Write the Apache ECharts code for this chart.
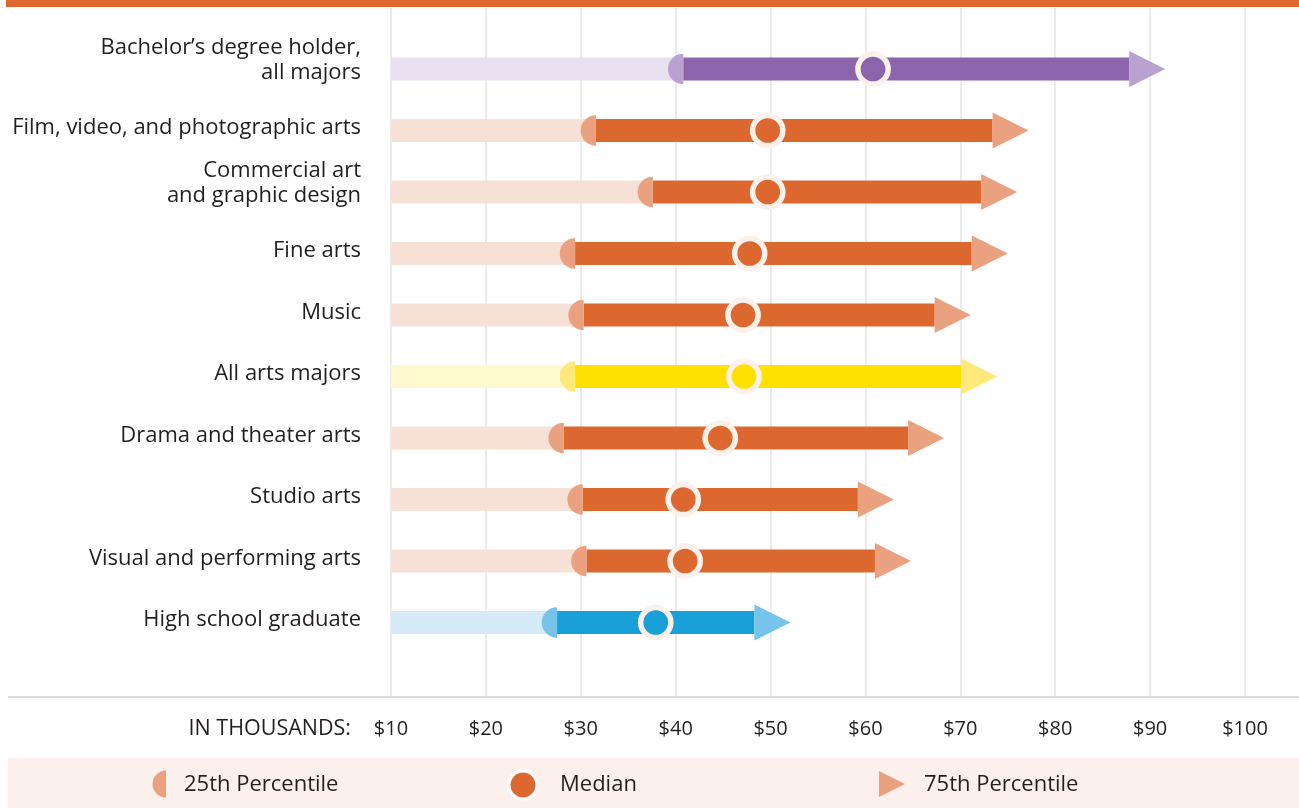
<!DOCTYPE html>
<html><head><meta charset="utf-8">
<script src="https://cdn.jsdelivr.net/npm/echarts@6/dist/echarts.min.js"></script>
<style>html,body{margin:0;padding:0;background:#fff}#c{width:1299px;height:808px}</style>
</head><body><div id="c"></div>
<script>
// ---- data (annual earnings, in thousands of dollars) ----
const categories = [
  'Bachelor’s degree holder,\nall majors',
  'Film, video, and photographic arts',
  'Commercial art\nand graphic design',
  'Fine arts',
  'Music',
  'All arts majors',
  'Drama and theater arts',
  'Studio arts',
  'Visual and performing arts',
  'High school graduate'
];
const p25Values    = [40.8, 31.6, 37.6, 29.4, 30.3, 29.4, 28.2, 30.2, 30.6, 27.5];
const medianValues = [60.8, 49.7, 49.7, 47.8, 47.1, 47.2, 44.7, 40.8, 41.0, 37.9];
const p75Values    = [87.8, 73.4, 72.2, 71.2, 67.3, 70.1, 64.5, 59.2, 61.0, 48.3];
const axisMin = 10, axisMax = 100, axisStep = 10;
const axisTitle = 'IN THOUSANDS:';
const legendLabels = ['25th Percentile', 'Median', '75th Percentile'];

// ---- styles ----
const palettes = {
  orange: {dark: '#DC6830', light: '#F7E1D7', accent: '#EAA17F'},
  purple: {dark: '#8B64AB', light: '#E8E0F0', accent: '#B9A2CF'},
  yellow: {dark: '#FFE000', light: '#FFF8CF', accent: '#FFE97A'},
  blue:   {dark: '#1AA0D8', light: '#D4EBF7', accent: '#76C4E9'}
};
function paletteFor(name) {
  if (name.indexOf('Bachelor') === 0) return palettes.purple;
  if (name === 'All arts majors') return palettes.yellow;
  if (name === 'High school graduate') return palettes.blue;
  return palettes.orange;
}
const textColor = '#231F20';
const fontFamily = '"Open Sans", sans-serif';
const FS = 22, TICK_FS = 20;
const BAR_H = 23, HALF_R = 15.3, TRI_W = 36, TRI_H = 36;

const chart = echarts.init(document.getElementById('c'), null, {renderer: 'canvas'});

const rangeData = categories.map((c, i) => [i, p25Values[i], medianValues[i], p75Values[i]]);

function labelFormatter(v) {
  const lines = v.split('\n');
  if (lines.length === 1) return '{s|' + v + '}\n{g1| }';
  return '{a|' + lines[0] + '}\n{a|' + lines[1] + '}\n{g2| }';
}

const option = {
  backgroundColor: '#ffffff',
  animation: false,
  textStyle: {fontFamily: fontFamily},
  grid: [
    {left: 391, right: 54, top: 38.25, height: 615, containLabel: false},
    {left: 391, right: 54, top: 8, bottom: 111, containLabel: false}
  ],
  xAxis: [
    {gridIndex: 0, type: 'value', min: axisMin, max: axisMax, interval: axisStep, show: false},
    {gridIndex: 1, type: 'value', min: axisMin, max: axisMax, interval: axisStep,
     axisLine: {show: false}, axisTick: {show: false},
     splitLine: {show: true, lineStyle: {color: '#E4E4E4', width: 1.5}},
     axisLabel: {formatter: '${value}', color: textColor, fontSize: TICK_FS, fontFamily: fontFamily, margin: 22}}
  ],
  yAxis: [
    {gridIndex: 0, type: 'category', data: categories, inverse: true,
     axisLine: {show: false}, axisTick: {show: false}, splitLine: {show: false},
     axisLabel: {margin: 30, formatter: labelFormatter, color: textColor, fontSize: FS, fontFamily: fontFamily, lineHeight: 25,
       rich: {
         s: {fontSize: FS, color: textColor, fontFamily: fontFamily, lineHeight: 25, height: 25},
         a: {fontSize: FS, color: textColor, fontFamily: fontFamily, lineHeight: 25, height: 25},
         g1: {fontSize: 2, lineHeight: 5, height: 5},
         g2: {fontSize: 2, lineHeight: 17, height: 17}
       }}},
    {gridIndex: 1, type: 'value', min: 0, max: 1, show: false}
  ],
  series: [
    {
      type: 'scatter', name: 'grid', xAxisIndex: 1, yAxisIndex: 1, data: [], silent: true
    },
    {
      type: 'custom', name: 'Range', xAxisIndex: 0, yAxisIndex: 0, z: 2,
      data: rangeData,
      encode: {y: 0, x: [1, 3]},
      renderItem: function (params, api) {
        const i = api.value(0);
        const pal = paletteFor(categories[i]);
        const s = api.coord([axisMin, i]);
        const a = api.coord([api.value(1), i]);
        const b = api.coord([api.value(3), i]);
        return {type: 'group', children: [
          {type: 'rect', shape: {x: s[0], y: s[1] - BAR_H / 2, width: a[0] - s[0], height: BAR_H}, style: {fill: pal.light}},
          {type: 'rect', shape: {x: a[0], y: a[1] - BAR_H / 2, width: b[0] - a[0], height: BAR_H}, style: {fill: pal.dark}}
        ]};
      }
    },
    {
      type: 'custom', name: legendLabels[0], xAxisIndex: 0, yAxisIndex: 0, z: 3,
      data: categories.map((c, i) => [p25Values[i], i]),
      encode: {x: 0, y: 1},
      renderItem: function (params, api) {
        const i = api.value(1);
        const pal = paletteFor(categories[i]);
        const p = api.coord([api.value(0), i]);
        return {type: 'sector', shape: {cx: p[0], cy: p[1], r0: 0, r: HALF_R, startAngle: Math.PI / 2, endAngle: Math.PI * 1.5, clockwise: true},
                style: {fill: pal.accent}};
      }
    },
    {
      type: 'custom', name: legendLabels[2], xAxisIndex: 0, yAxisIndex: 0, z: 3,
      data: categories.map((c, i) => [p75Values[i], i]),
      encode: {x: 0, y: 1},
      renderItem: function (params, api) {
        const i = api.value(1);
        const pal = paletteFor(categories[i]);
        const p = api.coord([api.value(0), i]);
        return {type: 'polygon', shape: {points: [[p[0], p[1] - TRI_H / 2], [p[0] + TRI_W, p[1]], [p[0], p[1] + TRI_H / 2]]},
                style: {fill: pal.accent}};
      }
    },
    {
      type: 'scatter', name: legendLabels[1], xAxisIndex: 0, yAxisIndex: 0, z: 5,
      symbol: 'circle', symbolSize: 30.2,
      data: categories.map((c, i) => ({value: [medianValues[i], i], itemStyle: {color: paletteFor(c).dark}})),
      itemStyle: {borderColor: '#FBF0EA', borderWidth: 5.5, opacity: 1}
    }
  ],
  graphic: [
    {type: 'rect', left: 6, top: 0, shape: {width: 1293, height: 7}, style: {fill: '#DC6830'}, z: 10},
    {type: 'rect', left: 8, top: 696, shape: {width: 1291, height: 2}, style: {fill: '#DCDCDC'}, z: 10},
    {type: 'text', x: 351, y: 729, style: {text: axisTitle, fill: textColor, font: '21.5px ' + fontFamily, align: 'right', verticalAlign: 'middle'}},
    {type: 'rect', left: 8, top: 758, shape: {width: 1291, height: 50}, style: {fill: '#FBF0EB'}, z: 1},
    {type: 'sector', shape: {cx: 166, cy: 784, r: 13.5, r0: 0, startAngle: Math.PI / 2, endAngle: Math.PI * 1.5}, style: {fill: '#EAA17F'}, z: 2},
    {type: 'text', x: 184, y: 785, style: {text: legendLabels[0], fill: textColor, font: FS + 'px ' + fontFamily, verticalAlign: 'middle'}, z: 2},
    {type: 'circle', shape: {cx: 523, cy: 785, r: 15.5}, style: {fill: '#ffffff'}, z: 2},
    {type: 'circle', shape: {cx: 523, cy: 785, r: 12.5}, style: {fill: '#DC6830'}, z: 3},
    {type: 'text', x: 560, y: 785, style: {text: legendLabels[1], fill: textColor, font: FS + 'px ' + fontFamily, verticalAlign: 'middle'}, z: 2},
    {type: 'polygon', shape: {points: [[879, 771], [905, 784], [879, 797]]}, style: {fill: '#EAA17F'}, z: 2},
    {type: 'text', x: 924, y: 785, style: {text: legendLabels[2], fill: textColor, font: FS + 'px ' + fontFamily, verticalAlign: 'middle'}, z: 2}
  ]
};
chart.setOption(option);
</script>
</body></html>
